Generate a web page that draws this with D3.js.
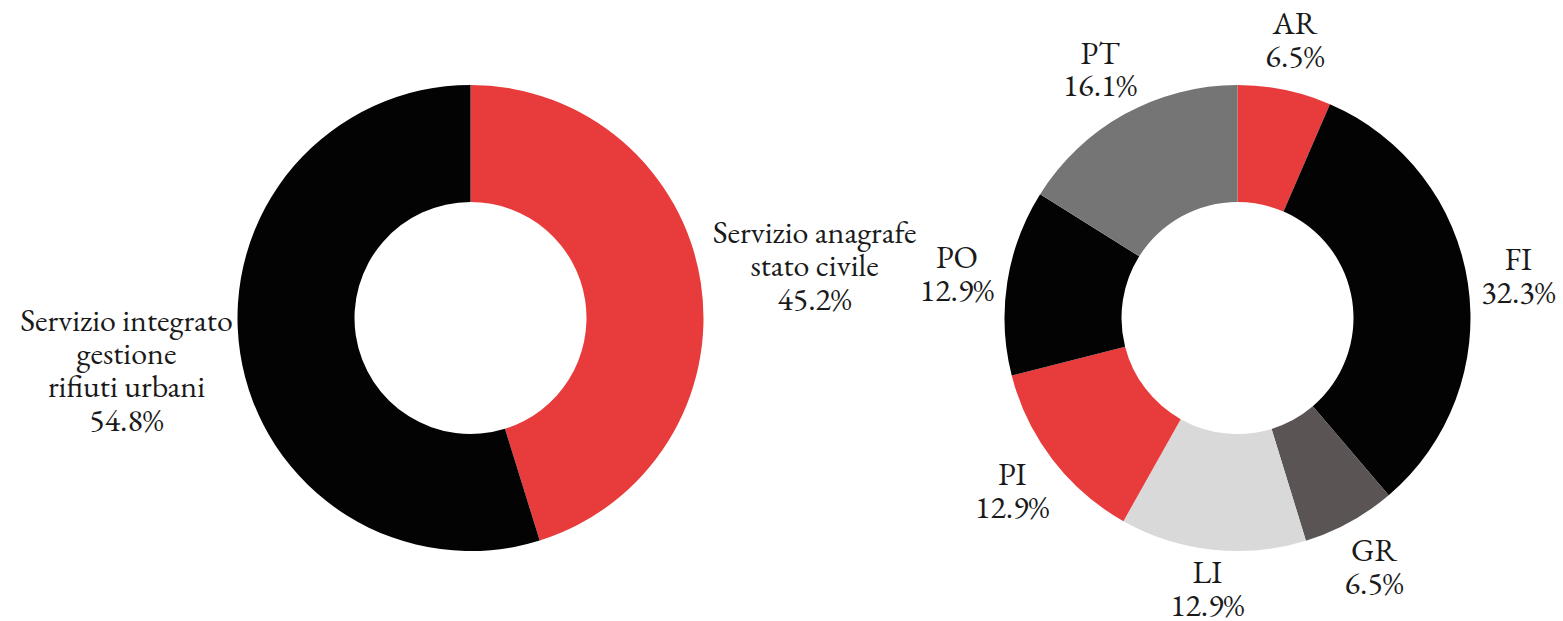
<!DOCTYPE html>
<html>
<head>
<meta charset="utf-8">
<script src="https://cdn.jsdelivr.net/npm/d3@7"></script>
<style>
  html, body { margin: 0; padding: 0; background: #fff; }
  svg { display: block; }
  text { font-family: "EB Garamond", "Liberation Serif", serif; }
</style>
</head>
<body>
<svg id="chart" width="1563" height="621"></svg>
<script>
// ---- data ----
const leftLabels = [["Servizio anagrafe", "stato civile"], ["Servizio integrato", "gestione", "rifiuti urbani"]];
const leftValues = [45.2, 54.8];
const leftColors = ["#e83c3c", "#030303"];

const rightLabels = ["AR", "FI", "GR", "LI", "PI", "PO", "PT"];
const rightValues = [6.5, 32.3, 6.5, 12.9, 12.9, 12.9, 16.1];
const rightColors = ["#e83c3c", "#030303", "#5a5454", "#d9d9d9", "#e83c3c", "#030303", "#757575"];

const H = 621;
const svg = d3.select("#chart");

function donut(cx, cy, outerR, innerR, labels, values, colors, labelR, lineH) {
  const g = svg.append("g").attr("transform", `translate(${cx},${cy})`);
  const pie = d3.pie().sort(null).value(d => d)(values);
  const arc = d3.arc().innerRadius(innerR).outerRadius(outerR);
  g.selectAll("path").data(pie).join("path")
    .attr("d", arc)
    .attr("fill", (d, i) => colors[i]);

  pie.forEach((d, i) => {
    const a = (d.startAngle + d.endAngle) / 2;
    const x = Math.sin(a) * labelR;
    let y = -Math.cos(a) * labelR;
    const lines = [].concat(labels[i], d3.format(".1f")(values[i]) + "%");
    const half = (lines.length - 1) * lineH / 2;
    // keep the label block inside the picture
    const maxY = (H - 16) - cy - half;
    if (y > maxY) y = maxY;
    const t = g.append("text")
      .attr("text-anchor", "middle")
      .style("font-size", "32px")
      .attr("fill", "#1a1a1a");
    lines.forEach((ln, k) => {
      t.append("tspan")
        .attr("x", x)
        .attr("y", y - half + k * lineH)
        .attr("dy", "0.33em")
        .text(ln);
    });
  });
}

donut(470.5, 318, 233, 116, leftLabels, leftValues, leftColors, 348, 33.3);
donut(1237.5, 318, 233, 116, rightLabels, rightValues, rightColors, 284, 32.5);
</script>
</body>
</html>
